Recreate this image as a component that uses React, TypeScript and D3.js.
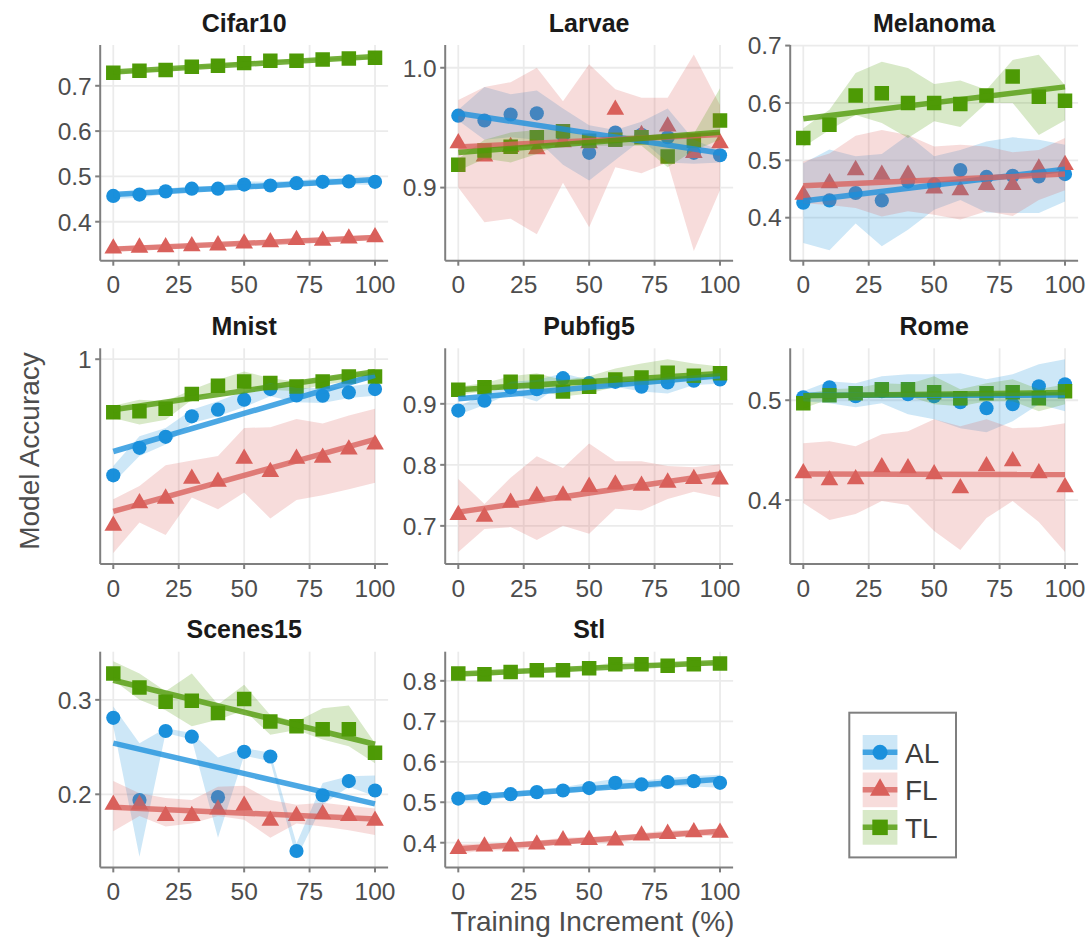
import React from "react";
import * as d3 from "d3";

// ---------- data ----------
const X_STEPS = [0, 10, 20, 30, 40, 50, 60, 70, 80, 90, 100];
const X_TICKS = [0, 25, 50, 75, 100];
const SERIES = ["AL", "FL", "TL"];
const PANEL_NAMES = ["Cifar10", "Larvae", "Melanoma", "Mnist", "Pubfig5", "Rome", "Scenes15", "Stl"];

// Cifar10
const cifar10AL = [0.457, 0.46, 0.467, 0.473, 0.473, 0.482, 0.48, 0.485, 0.488, 0.489, 0.488];
const cifar10ALlo = [0.45, 0.453, 0.461, 0.466, 0.467, 0.474, 0.473, 0.478, 0.48, 0.482, 0.481];
const cifar10ALhi = [0.463, 0.467, 0.473, 0.479, 0.479, 0.489, 0.488, 0.491, 0.496, 0.495, 0.495];
const cifar10FL = [0.341, 0.343, 0.344, 0.346, 0.348, 0.352, 0.355, 0.36, 0.358, 0.363, 0.366];
const cifar10FLlo = [0.336, 0.339, 0.34, 0.342, 0.344, 0.347, 0.351, 0.355, 0.354, 0.359, 0.361];
const cifar10FLhi = [0.346, 0.348, 0.349, 0.351, 0.353, 0.357, 0.36, 0.364, 0.363, 0.368, 0.371];
const cifar10TL = [0.729, 0.733, 0.735, 0.742, 0.744, 0.75, 0.755, 0.755, 0.758, 0.76, 0.762];
const cifar10TLlo = [0.726, 0.73, 0.732, 0.739, 0.741, 0.747, 0.752, 0.752, 0.755, 0.757, 0.759];
const cifar10TLhi = [0.732, 0.736, 0.738, 0.745, 0.747, 0.753, 0.758, 0.758, 0.761, 0.763, 0.765];

// Larvae
const larvaeAL = [0.96, 0.956, 0.961, 0.962, 0.944, 0.929, 0.946, 0.944, 0.942, 0.929, 0.927];
const larvaeALlo = [0.956, 0.94, 0.942, 0.94, 0.919, 0.906, 0.923, 0.94, 0.921, 0.92, 0.921];
const larvaeALhi = [0.965, 0.984, 0.978, 0.981, 0.966, 0.952, 0.948, 0.955, 0.966, 0.94, 0.931];
const larvaeFL = [0.937, 0.926, 0.934, 0.932, 0.938, 0.937, 0.965, 0.944, 0.951, 0.929, 0.937];
const larvaeFLlo = [0.9, 0.871, 0.874, 0.861, 0.904, 0.867, 0.917, 0.912, 0.921, 0.847, 0.898];
const larvaeFLhi = [0.973, 0.984, 0.988, 1.0, 0.972, 1.003, 0.982, 0.975, 0.975, 1.011, 0.969];
const larvaeTL = [0.919, 0.931, 0.934, 0.942, 0.947, 0.939, 0.94, 0.942, 0.926, 0.939, 0.956];
const larvaeTLlo = [0.914, 0.924, 0.921, 0.928, 0.937, 0.935, 0.935, 0.935, 0.917, 0.931, 0.94];
const larvaeTLhi = [0.924, 0.94, 0.946, 0.948, 0.949, 0.942, 0.944, 0.944, 0.942, 0.945, 0.983];

// Melanoma
const melanomaAL = [0.426, 0.43, 0.443, 0.43, 0.463, 0.458, 0.483, 0.471, 0.473, 0.472, 0.476];
const melanomaALlo = [0.356, 0.343, 0.39, 0.35, 0.379, 0.414, 0.431, 0.409, 0.408, 0.408, 0.428];
const melanomaALhi = [0.495, 0.519, 0.507, 0.511, 0.544, 0.507, 0.518, 0.533, 0.54, 0.536, 0.527];
const melanomaFL = [0.44, 0.46, 0.483, 0.475, 0.475, 0.451, 0.448, 0.457, 0.457, 0.486, 0.492];
const melanomaFLlo = [0.425, 0.422, 0.417, 0.402, 0.411, 0.405, 0.397, 0.411, 0.403, 0.431, 0.448];
const melanomaFLhi = [0.498, 0.512, 0.543, 0.553, 0.544, 0.524, 0.527, 0.524, 0.514, 0.518, 0.539];
const melanomaTL = [0.539, 0.562, 0.613, 0.617, 0.6, 0.6, 0.598, 0.613, 0.646, 0.611, 0.604];
const melanomaTLlo = [0.523, 0.553, 0.579, 0.565, 0.539, 0.568, 0.558, 0.6, 0.6, 0.544, 0.57];
const melanomaTLhi = [0.556, 0.588, 0.652, 0.672, 0.661, 0.633, 0.639, 0.623, 0.675, 0.684, 0.631];

// Mnist
const mnistAL = [0.98299, 0.98702, 0.98863, 0.99164, 0.99261, 0.99407, 0.99563, 0.9947, 0.99465, 0.99514, 0.99563];
const mnistALlo = [0.98192, 0.98581, 0.98751, 0.99067, 0.99164, 0.993, 0.99456, 0.99368, 0.99358, 0.99431, 0.99465];
const mnistALhi = [0.98435, 0.98872, 0.98994, 0.99261, 0.99383, 0.99529, 0.9965, 0.99577, 0.99577, 0.99601, 0.9965];
const mnistFL = [0.9756, 0.97891, 0.97959, 0.9825, 0.98207, 0.98542, 0.98348, 0.98542, 0.98557, 0.98678, 0.98751];
const mnistFLlo = [0.97162, 0.97609, 0.97424, 0.97973, 0.97803, 0.98046, 0.97667, 0.97939, 0.98007, 0.98095, 0.98192];
const mnistFLhi = [0.97949, 0.98143, 0.98445, 0.98518, 0.98581, 0.98994, 0.99004, 0.99125, 0.99057, 0.99174, 0.99276];
const mnistTL = [0.99222, 0.99237, 0.99276, 0.9949, 0.99611, 0.99674, 0.9965, 0.99601, 0.99674, 0.99747, 0.99747];
const mnistTLlo = [0.9914, 0.99043, 0.99115, 0.99407, 0.99529, 0.99577, 0.99553, 0.99529, 0.99626, 0.99674, 0.99699];
const mnistTLhi = [0.9932, 0.99407, 0.99383, 0.99553, 0.99699, 0.9982, 0.99723, 0.99674, 0.99723, 0.99796, 0.9982];

// Pubfig5
const pubfig5AL = [0.889, 0.905, 0.927, 0.924, 0.942, 0.934, 0.936, 0.928, 0.935, 0.938, 0.94];
const pubfig5ALlo = [0.882, 0.898, 0.917, 0.904, 0.934, 0.926, 0.928, 0.92, 0.917, 0.931, 0.933];
const pubfig5ALhi = [0.896, 0.915, 0.936, 0.939, 0.95, 0.939, 0.945, 0.939, 0.945, 0.945, 0.947];
const pubfig5FL = [0.718, 0.715, 0.738, 0.749, 0.75, 0.764, 0.768, 0.766, 0.771, 0.777, 0.776];
const pubfig5FLlo = [0.657, 0.695, 0.698, 0.677, 0.7, 0.687, 0.728, 0.725, 0.744, 0.756, 0.747];
const pubfig5FLhi = [0.777, 0.736, 0.779, 0.814, 0.795, 0.835, 0.806, 0.806, 0.798, 0.796, 0.801];
const pubfig5TL = [0.923, 0.927, 0.936, 0.936, 0.92, 0.928, 0.94, 0.943, 0.951, 0.946, 0.95];
const pubfig5TLlo = [0.915, 0.92, 0.928, 0.923, 0.912, 0.917, 0.928, 0.931, 0.934, 0.939, 0.942];
const pubfig5TLhi = [0.928, 0.934, 0.945, 0.95, 0.939, 0.945, 0.958, 0.966, 0.973, 0.966, 0.961];

// Rome
const romeAL = [0.503, 0.513, 0.504, 0.509, 0.506, 0.504, 0.498, 0.492, 0.496, 0.514, 0.516];
const romeALlo = [0.499, 0.497, 0.493, 0.497, 0.486, 0.481, 0.472, 0.468, 0.479, 0.496, 0.489];
const romeALhi = [0.509, 0.519, 0.517, 0.524, 0.526, 0.526, 0.527, 0.521, 0.526, 0.536, 0.541];
const romeFL = [0.427, 0.42, 0.421, 0.433, 0.432, 0.426, 0.412, 0.434, 0.439, 0.427, 0.413];
const romeFLlo = [0.397, 0.38, 0.386, 0.399, 0.395, 0.369, 0.35, 0.382, 0.399, 0.378, 0.348];
const romeFLhi = [0.457, 0.459, 0.454, 0.466, 0.469, 0.481, 0.474, 0.481, 0.472, 0.473, 0.477];
const romeTL = [0.497, 0.505, 0.507, 0.511, 0.511, 0.508, 0.502, 0.507, 0.508, 0.502, 0.509];
const romeTLlo = [0.492, 0.501, 0.502, 0.504, 0.504, 0.496, 0.494, 0.499, 0.499, 0.489, 0.496];
const romeTLhi = [0.506, 0.511, 0.512, 0.517, 0.516, 0.524, 0.511, 0.517, 0.521, 0.511, 0.516];

// Scenes15
const scenes15AL = [0.281, 0.194, 0.267, 0.261, 0.197, 0.245, 0.24, 0.14, 0.199, 0.214, 0.204];
const scenes15ALlo = [0.272, 0.134, 0.265, 0.258, 0.154, 0.241, 0.235, 0.132, 0.189, 0.208, 0.198];
const scenes15ALhi = [0.293, 0.254, 0.27, 0.265, 0.239, 0.249, 0.244, 0.148, 0.212, 0.219, 0.22];
const scenes15FL = [0.189, 0.189, 0.177, 0.177, 0.184, 0.188, 0.172, 0.177, 0.179, 0.177, 0.172];
const scenes15FLlo = [0.161, 0.177, 0.166, 0.169, 0.177, 0.173, 0.154, 0.169, 0.166, 0.162, 0.157];
const scenes15FLhi = [0.214, 0.201, 0.196, 0.194, 0.208, 0.209, 0.194, 0.189, 0.191, 0.188, 0.185];
const scenes15TL = [0.328, 0.313, 0.298, 0.299, 0.286, 0.301, 0.277, 0.272, 0.269, 0.269, 0.244];
const scenes15TLlo = [0.321, 0.3, 0.289, 0.272, 0.279, 0.289, 0.263, 0.268, 0.258, 0.251, 0.233];
const scenes15TLhi = [0.341, 0.328, 0.309, 0.328, 0.295, 0.316, 0.284, 0.277, 0.291, 0.294, 0.254];

// Stl
const stlAL = [0.509, 0.51, 0.52, 0.525, 0.529, 0.535, 0.548, 0.544, 0.55, 0.552, 0.548];
const stlALlo = [0.502, 0.503, 0.513, 0.518, 0.522, 0.527, 0.537, 0.531, 0.54, 0.539, 0.536];
const stlALhi = [0.516, 0.517, 0.527, 0.532, 0.537, 0.548, 0.558, 0.553, 0.56, 0.565, 0.568];
const stlFL = [0.385, 0.391, 0.391, 0.396, 0.406, 0.407, 0.406, 0.418, 0.422, 0.426, 0.425];
const stlFLlo = [0.373, 0.381, 0.382, 0.388, 0.398, 0.399, 0.398, 0.41, 0.413, 0.418, 0.416];
const stlFLhi = [0.396, 0.398, 0.4, 0.405, 0.412, 0.414, 0.414, 0.424, 0.43, 0.432, 0.432];
const stlTL = [0.818, 0.816, 0.822, 0.826, 0.826, 0.831, 0.841, 0.841, 0.837, 0.841, 0.843];
const stlTLlo = [0.813, 0.811, 0.817, 0.821, 0.821, 0.826, 0.836, 0.836, 0.832, 0.836, 0.838];
const stlTLhi = [0.823, 0.821, 0.827, 0.831, 0.831, 0.836, 0.846, 0.846, 0.842, 0.846, 0.848];

// y-axis limits and tick labels per panel
const Y_DOMAINS = [
  [0.314, 0.79], [0.839, 1.019], [0.325, 0.701], [0.97, 1.0016],
  [0.6375, 0.991], [0.336, 0.552], [0.1226, 0.351], [0.339, 0.872],
];
const Y_TICKS = [
  ["0.4", "0.5", "0.6", "0.7"], ["0.9", "1.0"], ["0.4", "0.5", "0.6", "0.7"], ["1"],
  ["0.7", "0.8", "0.9"], ["0.4", "0.5"], ["0.2", "0.3"], ["0.4", "0.5", "0.6", "0.7", "0.8"],
];

const PANEL_SERIES = [
  [[cifar10AL, cifar10ALlo, cifar10ALhi], [cifar10FL, cifar10FLlo, cifar10FLhi], [cifar10TL, cifar10TLlo, cifar10TLhi]],
  [[larvaeAL, larvaeALlo, larvaeALhi], [larvaeFL, larvaeFLlo, larvaeFLhi], [larvaeTL, larvaeTLlo, larvaeTLhi]],
  [[melanomaAL, melanomaALlo, melanomaALhi], [melanomaFL, melanomaFLlo, melanomaFLhi], [melanomaTL, melanomaTLlo, melanomaTLhi]],
  [[mnistAL, mnistALlo, mnistALhi], [mnistFL, mnistFLlo, mnistFLhi], [mnistTL, mnistTLlo, mnistTLhi]],
  [[pubfig5AL, pubfig5ALlo, pubfig5ALhi], [pubfig5FL, pubfig5FLlo, pubfig5FLhi], [pubfig5TL, pubfig5TLlo, pubfig5TLhi]],
  [[romeAL, romeALlo, romeALhi], [romeFL, romeFLlo, romeFLhi], [romeTL, romeTLlo, romeTLhi]],
  [[scenes15AL, scenes15ALlo, scenes15ALhi], [scenes15FL, scenes15FLlo, scenes15FLhi], [scenes15TL, scenes15TLlo, scenes15TLhi]],
  [[stlAL, stlALlo, stlALhi], [stlFL, stlFLlo, stlFLhi], [stlTL, stlTLlo, stlTLhi]],
];

// ---------- style / layout ----------
const COLORS = ["#1a90dc", "#d9605b", "#4e9a06"];
const FONT = "'Liberation Sans', Arial, Helvetica, sans-serif";
const COL_LEFT = [100.2, 445.2, 790.2];
const ROW_TOP = [45, 348.3, 651.7];
const PW = 287.9;
const PH = 215.7;
const AXIS_COLOR = "#7f7f7f";
const GRID_COLOR = "#ebebeb";
const TICK_TEXT = "#4d4d4d";

const symbolTypes = [d3.symbolCircle, d3.symbolTriangle, d3.symbolSquare];
const symbolSizes = [158, 135, 210];
const legendSymbolSizes = [177, 175, 240];

function linreg(xs: number[], ys: number[]) {
  const mx = d3.mean(xs) as number;
  const my = d3.mean(ys) as number;
  let num = 0, den = 0;
  xs.forEach((x, i) => { num += (x - mx) * (ys[i] - my); den += (x - mx) * (x - mx); });
  const b = num / den;
  return { a: my - b * mx, b };
}

function Panel({ idx }: { idx: number }) {
  const left = COL_LEFT[idx % 3];
  const top = ROW_TOP[Math.floor(idx / 3)];
  const x = d3.scaleLinear().domain([-5, 105]).range([left, left + PW]);
  const y = d3.scaleLinear().domain(Y_DOMAINS[idx]).range([top + PH, top]);
  const series = PANEL_SERIES[idx];
  const bottom = top + PH;
  const clipId = `clip-${idx}`;

  return (
    <g>
      <defs>
        <clipPath id={clipId}>
          <rect x={left} y={top} width={PW} height={PH} />
        </clipPath>
      </defs>
      {/* grid */}
      {X_TICKS.map((t) => (
        <line key={"vx" + t} x1={x(t)} x2={x(t)} y1={top} y2={bottom} stroke={GRID_COLOR} strokeWidth={1.8} />
      ))}
      {Y_TICKS[idx].map((t) => (
        <line key={"hy" + t} x1={left} x2={left + PW} y1={y(+t)} y2={y(+t)} stroke={GRID_COLOR} strokeWidth={1.8} />
      ))}
      <g clipPath={`url(#${clipId})`}>
        {/* points */}
        {series.map((s, si) =>
          s[0].map((v, i) => (
            <path
              key={`p${si}-${i}`}
              d={d3.symbol().type(symbolTypes[si]).size(symbolSizes[si])() as string}
              transform={`translate(${x(X_STEPS[i])},${y(v)})`}
              fill={COLORS[si]}
            />
          ))
        )}
        {/* ribbons */}
        {series.map((s, si) => {
          const a = d3.area<number>()
            .x((_, i) => x(X_STEPS[i]))
            .y0((_, i) => y(s[1][i]))
            .y1((_, i) => y(s[2][i]));
          return <path key={`r${si}`} d={a(s[0]) as string} fill={COLORS[si]} fillOpacity={0.22} />;
        })}
        {/* linear fits */}
        {series.map((s, si) => {
          const { a, b } = linreg(X_STEPS, s[0]);
          const ln = d3.line<number>().x((d) => x(d)).y((d) => y(a + b * d));
          return (
            <path key={`l${si}`} d={ln([0, 100]) as string} stroke={COLORS[si]} strokeWidth={5.5}
              strokeOpacity={0.78} fill="none" />
          );
        })}
      </g>
      {/* axes */}
      <line x1={left} x2={left} y1={top} y2={bottom} stroke={AXIS_COLOR} strokeWidth={2} />
      <line x1={left} x2={left + PW} y1={bottom} y2={bottom} stroke={AXIS_COLOR} strokeWidth={2} />
      {Y_TICKS[idx].map((t) => (
        <g key={"yt" + t}>
          <line x1={left - 5} x2={left} y1={y(+t)} y2={y(+t)} stroke={AXIS_COLOR} strokeWidth={2} />
          <text x={left - 8.5} y={y(+t)} dy="0.36em" textAnchor="end" fontSize={24.5} fill={TICK_TEXT} fontFamily={FONT}>
            {t}
          </text>
        </g>
      ))}
      {X_TICKS.map((t) => (
        <g key={"xt" + t}>
          <line x1={x(t)} x2={x(t)} y1={bottom} y2={bottom + 5} stroke={AXIS_COLOR} strokeWidth={2} />
          <text x={x(t)} y={bottom + 32.5} textAnchor="middle" fontSize={24.5} fill={TICK_TEXT} fontFamily={FONT}>
            {t}
          </text>
        </g>
      ))}
      <text x={left + PW / 2} y={top - 13.3} textAnchor="middle" fontSize={25} fontWeight="bold" fill="#1a1a1a" fontFamily={FONT}>
        {PANEL_NAMES[idx]}
      </text>
    </g>
  );
}

function Legend() {
  const bx = 849.3, by = 712.7, bw = 106.7, bh = 144.7;
  const kx = 862.7, ks = 34.7, ky0 = 735, kstep = 37.5;
  return (
    <g>
      <rect x={bx} y={by} width={bw} height={bh} fill="white" stroke={AXIS_COLOR} strokeWidth={2} />
      {SERIES.map((name, si) => {
        const ky = ky0 + si * kstep;
        const cy = ky + ks / 2;
        return (
          <g key={name}>
            <rect x={kx} y={ky} width={ks} height={ks} fill={COLORS[si]} fillOpacity={0.22} />
            <line x1={kx} x2={kx + ks} y1={cy} y2={cy} stroke={COLORS[si]} strokeWidth={5.5} strokeOpacity={0.78} />
            <path d={d3.symbol().type(symbolTypes[si]).size(legendSymbolSizes[si])() as string}
              transform={`translate(${kx + ks / 2},${cy})`} fill={COLORS[si]} />
            <text x={905} y={cy + 10.3} fontSize={28} fill="#3d3d3d" fontFamily={FONT}>{name}</text>
          </g>
        );
      })}
    </g>
  );
}

export default function App() {
  return (
    <svg width={1090} height={937} style={{ position: "absolute", left: 0, top: 0, background: "white" }}>
      <rect x={0} y={0} width={1090} height={937} fill="white" />
      {PANEL_NAMES.map((_, i) => <Panel key={i} idx={i} />)}
      <Legend />
      <text transform="translate(38.5,451) rotate(-90)" textAnchor="middle" fontSize={28} fill={TICK_TEXT} fontFamily={FONT}>
        Model Accuracy
      </text>
      <text x={592.5} y={930.7} textAnchor="middle" fontSize={28} fill={TICK_TEXT} fontFamily={FONT}>
        Training Increment (%)
      </text>
    </svg>
  );
}
